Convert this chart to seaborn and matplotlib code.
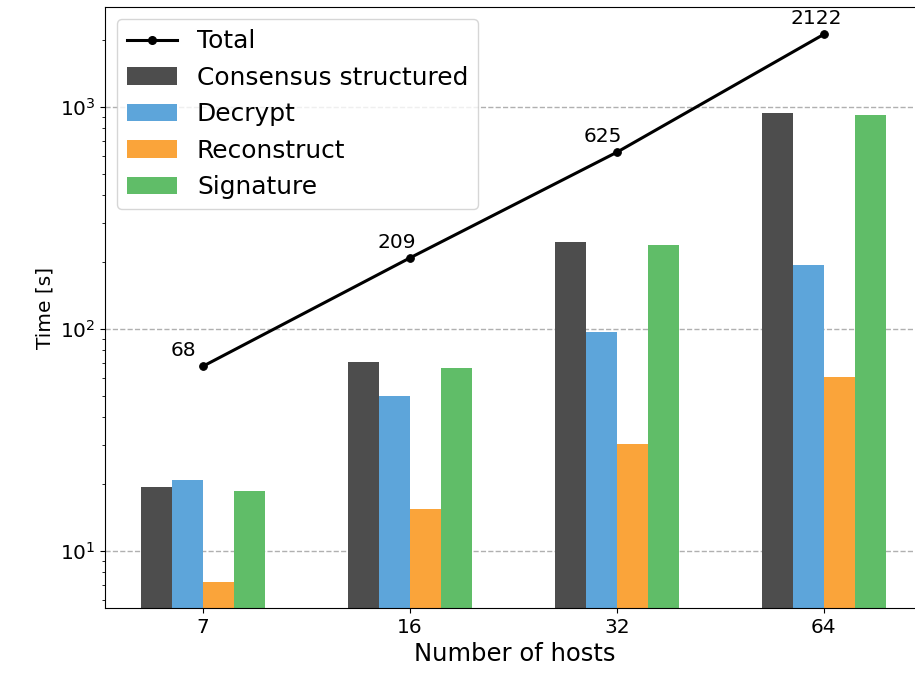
import matplotlib
matplotlib.use("Agg")
import matplotlib.pyplot as plt
import seaborn as sns
import pandas as pd
from matplotlib.lines import Line2D
from matplotlib.patches import Patch

hosts = ["7", "16", "32", "64"]
consensus = [19.5, 71.3, 247, 937]
decrypt = [20.9, 50.1, 97.3, 194]
reconstruct = [7.27, 15.5, 30.4, 60.5]
signature = [18.7, 66.9, 240, 918]
totals = [68, 209, 625, 2122]

series_names = ["Consensus structured", "Decrypt", "Reconstruct", "Signature"]
series_colors = ["#4d4d4d", "#5da5da", "#faa43a", "#60bd68"]

rows = []
for name, vals in zip(series_names, [consensus, decrypt, reconstruct, signature]):
    for h, v in zip(hosts, vals):
        rows.append({"hosts": h, "phase": name, "time": v})
df = pd.DataFrame(rows)

plt.rcParams["font.family"] = ["DejaVu Sans"]

fig = plt.figure(figsize=(9.15, 6.75), dpi=100)
ax = fig.add_axes([105 / 915, 1 - 608 / 675, 820 / 915, (608 - 7) / 675])

ax.set_yscale("log")
sns.barplot(data=df, x="hosts", y="time", hue="phase", order=hosts,
            hue_order=series_names, palette=series_colors, width=0.6,
            saturation=1, legend=False, ax=ax, errorbar=None)

positions = list(range(len(hosts)))
sns.lineplot(x=positions, y=totals, color="black", linewidth=2.2, marker="o",
             markersize=5.5, markeredgecolor="black", markerfacecolor="black",
             ax=ax, legend=False)

for x, t in zip(positions, totals):
    ax.annotate(str(t), (x, t), xytext=(-33, 6), textcoords="offset pixels",
                ha="left", va="bottom", fontsize=14.5)

ax.set_xlim(-0.475, 3.49)
ax.set_ylim(5.53, 2820)
ax.yaxis.grid(True, which="major", linestyle="--", color="#b0b0b0", linewidth=1)
ax.set_axisbelow(True)

ax.tick_params(axis="both", which="major", labelsize=14.5)
ax.set_xlabel("Number of hosts", fontsize=17.5)
ax.set_ylabel("Time [s]", fontsize=14.5)

handles = [Line2D([0], [0], color="black", linewidth=2.2, marker="o", markersize=5.5)]
handles += [Patch(facecolor=c, edgecolor="none") for c in series_colors]
ax.legend(handles, ["Total"] + series_names, loc="upper left", fontsize=17.9,
          handlelength=2.0)

fig.savefig("out.png", dpi=100)
